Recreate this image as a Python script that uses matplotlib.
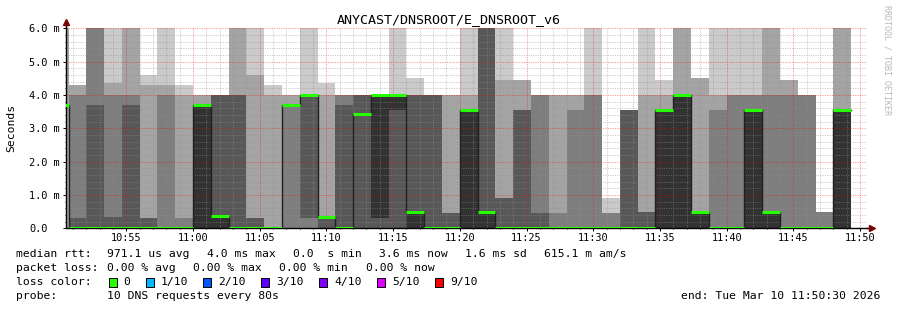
import matplotlib
matplotlib.use("Agg")
import matplotlib.pyplot as plt
from matplotlib.patches import Rectangle
from matplotlib.ticker import MultipleLocator, FixedLocator
import numpy as np

W, H = 897, 310

# one value per 80 s step; step 0 starts at 11:00:00, first step (-8) starts 10:49:20
first_step = -8
step_minutes = 80 / 60.0

# sorted pings of each step in ms (ping1 fastest ... ping10 slowest), values above 6 are off the chart
ping1 = [0, 0, 0, 0, 0, 0, 0, 0,
         0, 0, 0, 0, 0, 0, 0, 0, 0, 0, 0, 0,
         0, 0, 0, 0, 0, 0, 0, 0, 0, 0, 0, 0,
         0, 0, 0, 0, 0, 0, 0, 0, 0, 0, 0, 0, 0]
ping2 = [0, 0, 0, 0, 0, 0, 0, 0,
         0, 0, 0, 0, 0, 0, 0, 0, 0, 0, 0, 0,
         0, 0, 0, 0, 0, 0, 0, 0, 0, 0, 0, 0,
         0, 0, 0, 0, 0, 0, 0, 0, 0, 0, 0, 0, 0]
ping3 = [0, 0, 0, 0, 0, 0, 0, 0,
         0, 0, 0, 0, 0, 0, 0, 0, 0, 0, 0, 0,
         0, 0, 0, 0, 0, 0, 0, 0, 0, 0, 0, 0,
         0, 0, 0, 0, 0, 0, 0, 0, 0, 0, 0, 0, 0]
ping4 = [0, 0, 0, 0, 0, 0, 0, 0,
         0, 0, 0, 0, 0, 0, 0.3, 0, 0, 0, 0, 0,
         0, 0, 0, 0, 0, 0, 0, 0, 0, 0, 0, 0,
         0, 0, 0, 0, 0, 0, 0, 0, 0, 0, 0, 0, 0]
ping5 = [0, 0, 0, 0, 0, 0, 0, 0,
         0, 0, 0, 0, 0, 0, 4.0, 0, 0, 0, 0.3, 3.55,
         0, 0, 0, 0, 0, 0, 0, 0, 0, 0, 0, 0,
         0, 0, 0, 0, 0, 0, 0, 0, 0, 0, 0, 0, 0]
ping6 = [0, 0, 0, 0, 0, 0, 0, 0,
         3.7, 0.36, 0, 0, 0, 0, 4.0, 0, 0, 0, 4.0, 4.0,
         0.5, 0, 0, 3.55, 0.5, 0, 0, 0, 0, 0, 0, 0,
         0, 0, 3.55, 4.0, 0.5, 0, 0, 3.55, 0.5, 0, 0, 0, 3.55]
ping7 = [0, 0.3, 3.7, 0.35, 3.7, 0.3, 0, 0,
         3.7, 4.0, 4.0, 0.3, 0, 0, 4.0, 0.35, 3.7, 4.0, 4.0, 4.0,
         4.0, 4.0, 0.46, 3.55, 6.5, 0.92, 3.55, 0.46, 0, 0, 0, 0,
         3.55, 0.5, 3.55, 4.0, 0.5, 0, 0, 3.55, 0.5, 0, 0, 0, 3.55]
ping8 = [0, 4.0, 6.5, 4.0, 4.0, 0.3, 4.0, 0.3,
         3.7, 4.0, 4.0, 0.3, 0, 3.7, 4.0, 0.35, 4.0, 4.0, 4.0, 4.0,
         4.0, 4.0, 0.46, 3.55, 6.5, 0.92, 3.55, 4.0, 0.46, 3.55, 4.0, 0.46,
         3.55, 0.5, 3.55, 4.0, 0.5, 3.55, 4.0, 4.0, 4.0, 4.0, 4.0, 0.5, 3.55]
ping9 = [6.5, 4.3, 6.5, 4.35, 6.5, 4.3, 4.3, 4.0,
         4.0, 4.0, 6.5, 4.6, 4.0, 4.0, 4.0, 4.0, 4.0, 4.0, 4.0, 4.0,
         4.0, 4.0, 4.0, 4.0, 6.5, 4.44, 4.45, 4.0, 4.0, 4.0, 4.0, 0.46,
         3.55, 4.0, 4.0, 6.5, 4.5, 4.0, 4.0, 4.0, 6.5, 4.45, 4.0, 0.5, 6.5]
ping10 = [6.5, 4.3, 6.5, 6.5, 6.5, 4.6, 6.5, 4.3,
          4.0, 4.0, 6.5, 6.5, 4.3, 4.0, 6.5, 4.36, 4.0, 4.0, 4.0, 6.5,
          4.52, 4.0, 4.0, 6.5, 6.5, 6.5, 4.45, 4.0, 4.0, 4.0, 6.5, 0.92,
          3.55, 6.5, 4.45, 6.5, 4.5, 6.5, 6.5, 6.5, 6.5, 4.45, 4.0, 0.5, 6.5]
median = [3.7, 0, 0, 0, 0, 0, 0, 0,
          3.7, 0.36, 0, 0, 0, 3.7, 4.0, 0.35, 0, 3.42, 4.0, 4.0,
          0.5, 0, 0, 3.55, 0.5, 0, 0, 0, 0, 0, 0, 0,
          0, 0, 3.55, 4.0, 0.5, 0, 0, 3.55, 0.5, 0, 0, 0, 3.55]

tick_minutes = [-5, 0, 5, 10, 15, 20, 25, 30, 35, 40, 45, 50]
tick_labels = ["10:55", "11:00", "11:05", "11:10", "11:15", "11:20",
               "11:25", "11:30", "11:35", "11:40", "11:45", "11:50"]
y_ticks = [0, 1, 2, 3, 4, 5, 6]
y_labels = ["0.0", "1.0 m", "2.0 m", "3.0 m", "4.0 m", "5.0 m", "6.0 m"]

loss_labels = ["0", "1/10", "2/10", "3/10", "4/10", "5/10", "9/10"]
loss_colors = ["#26ff00", "#00b8ff", "#0059ff", "#5e00ff", "#7e00ff", "#dd00ff", "#ff0000"]

smoke_grey = ["#cacaca", "#a4a4a4", "#7e7e7e", "#585858", "#323232"]

plt.rcParams["font.family"] = ["DejaVu Sans Mono"]

fig = plt.figure(figsize=(W / 100, H / 100), dpi=100)
fig.patch.set_facecolor("white")
x0, x1, y0, y1 = 66.3, 866.7, 228.3, 28.3
ax = fig.add_axes([x0 / W, 1 - y0 / H, (x1 - x0) / W, (y0 - y1) / H])

pings = [ping1, ping2, ping3, ping4, ping5, ping6, ping7, ping8, ping9, ping10]
n = len(median)
edges = (first_step + np.arange(n + 1)) * step_minutes

# smoke: band i between ping i and ping 11-i, darker towards the middle
for i in range(5):
    lo = np.append(pings[i], pings[i][-1])
    hi = np.append(pings[9 - i], pings[9 - i][-1])
    ax.fill_between(edges, lo, hi, step="post", color=smoke_grey[i], linewidth=0, zorder=1)

# median line
ax.step(edges, np.append(median, median[-1]), where="post", color="#202020", lw=1, zorder=3)
ax.hlines(median, edges[:-1], edges[1:], color=loss_colors[0], lw=2.2, zorder=4)

ax.set_xlim(-9.5, 50.5)
ax.set_ylim(0, 6)

ax.xaxis.set_major_locator(FixedLocator(tick_minutes))
ax.xaxis.set_minor_locator(MultipleLocator(1))
ax.set_xticklabels(tick_labels)
ax.yaxis.set_major_locator(FixedLocator(y_ticks))
ax.yaxis.set_minor_locator(MultipleLocator(0.2))
ax.set_yticklabels(y_labels)

ax.grid(which="minor", color="#909090", alpha=0.45, lw=0.7, linestyle=(0, (1.2, 1.2)))
ax.grid(which="major", color="#ff0000", alpha=0.4, lw=0.7, linestyle=(0, (1.2, 1.2)))
ax.set_axisbelow(False)

ax.tick_params(axis="both", which="both", labelsize=7.4, color="black", width=0.7)
ax.tick_params(axis="both", which="major", length=2)
ax.tick_params(axis="both", which="minor", length=1)
ax.tick_params(axis="x", which="major", pad=1.5)
ax.tick_params(axis="y", which="major", pad=24.9)
for lab in ax.get_yticklabels():
    lab.set_horizontalalignment("left")

for s in ["top", "right"]:
    ax.spines[s].set_visible(False)
ax.spines["left"].set_linewidth(1)
ax.spines["bottom"].set_linewidth(1)

# axis extensions with arrows
ax.plot([0, 0], [1, 1.025], transform=ax.transAxes, color="black", lw=1, clip_on=False)
ax.plot([0], [1.03], marker="^", ms=4, color="#7f0000", transform=ax.transAxes, clip_on=False)
ax.plot([1, 1.006], [0, 0], transform=ax.transAxes, color="black", lw=1, clip_on=False)
ax.plot([1.007], [0], marker=">", ms=4, color="#7f0000", transform=ax.transAxes, clip_on=False)

fig.text(11 / W, 1 - 128.3 / H, "Seconds", rotation=90, ha="center", va="center", fontsize=8.2)
fig.text(448.5 / W, 1 - 19.5 / H, "ANYCAST/DNSROOT/E_DNSROOT_v6", ha="center", va="center", fontsize=9.6)
fig.text(887 / W, 1 - 5 / H, "RRDTOOL / TOBI OETIKER", rotation=-90, ha="center", va="top",
         fontsize=6, color="#b8b8b8")


def put(x, y, s, ha="left"):
    fig.text(x / W, 1 - y / H, s, ha=ha, va="center", fontsize=8.2)


put(16, 254.3, "median rtt:")
put(107.3, 254.3, "971.1 us avg")
put(206.7, 254.3, "4.0 ms max")
put(292.7, 254.3, "0.0  s min")
put(379, 254.3, "3.6 ms now")
put(465, 254.3, "1.6 ms sd")
put(544.3, 254.3, "615.1 m am/s")

put(16, 268.3, "packet loss:")
put(107.3, 268.3, "0.00 % avg")
put(193.3, 268.3, "0.00 % max")
put(279.3, 268.3, "0.00 % min")
put(365.7, 268.3, "0.00 % now")

put(16, 282.3, "loss color:")
box_x = [108.7, 145.7, 203.3, 261.3, 319.3, 377.3, 435.3]
for bx, lab, col in zip(box_x, loss_labels, loss_colors):
    fig.add_artist(Rectangle((bx / W, 1 - 286.8 / H), 8 / W, 8.4 / H, facecolor=col,
                             edgecolor="black", lw=0.7, transform=fig.transFigure))
    put(bx + 14.8, 282.3, lab)

put(16, 296.3, "probe:")
put(107.3, 296.3, "10 DNS requests every 80s")
put(880.7, 296.3, "end: Tue Mar 10 11:50:30 2026", ha="right")

fig.savefig("out.png", dpi=100, facecolor="white")
